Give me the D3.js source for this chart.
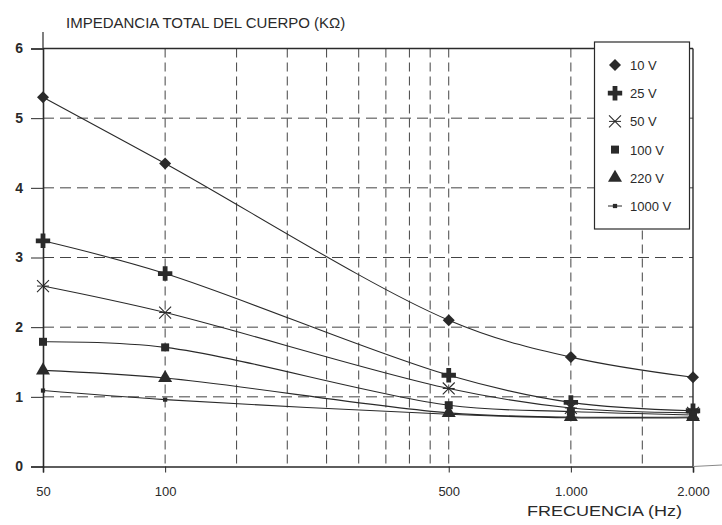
<!DOCTYPE html>
<html><head><meta charset="utf-8">
<script src="https://cdn.jsdelivr.net/npm/d3@7"></script>
<style>
html,body{margin:0;padding:0;background:#fff;}
svg{display:block;font-family:Arial,"Liberation Sans",sans-serif;}
</style></head>
<body>
<svg id="chart" width="722" height="525"></svg>
<script>
// ---- data ----
const frequencies = [50, 100, 500, 1000, 2000];
const seriesNames = ["10 V", "25 V", "50 V", "100 V", "220 V", "1000 V"];
const v10   = [5.30, 4.35, 2.10, 1.57, 1.28];
const v25   = [3.24, 2.77, 1.31, 0.92, 0.80];
const v50   = [2.59, 2.21, 1.12, 0.84, 0.77];
const v100  = [1.79, 1.71, 0.88, 0.79, 0.74];
const v220  = [1.38, 1.27, 0.77, 0.71, 0.71];
const v1000 = [1.09, 0.96, 0.75, 0.70, 0.70];
const xTickValues = [50, 100, 500, 1000, 2000];
const xTickLabels = ["50", "100", "500", "1.000", "2.000"];
const xGridValues = [100, 150, 200, 250, 300, 350, 400, 450, 500, 1000, 1500];
const yTickValues = [0, 1, 2, 3, 4, 5, 6];
const yGridValues = [1, 2, 3, 4, 5];
const titleText = "IMPEDANCIA TOTAL DEL CUERPO (KΩ)";
const xTitleText = "FRECUENCIA (Hz)";

const allValues = [v10, v25, v50, v100, v220, v1000];
const markerTypes = ["diamond", "cross", "asterisk", "square", "triangle", "dot"];

// ---- layout ----
const svg = d3.select("#chart");
const L = 43, R = 693, T = 48.5, B = 466.5;
const x = d3.scaleLog().domain([50, 2000]).range([L, R]);
const y = d3.scaleLinear().domain([0, 6]).range([B, T]);
const ink = "#2a2a2a";
const gridCol = "#444";

// grid
svg.append("g").selectAll("line").data(xGridValues).join("line")
  .attr("x1", d => x(d)).attr("x2", d => x(d)).attr("y1", T).attr("y2", B)
  .attr("stroke", gridCol).attr("stroke-width", 1).attr("stroke-dasharray", "9,5");
svg.append("g").selectAll("line").data(yGridValues).join("line")
  .attr("x1", L).attr("x2", R).attr("y1", d => y(d)).attr("y2", d => y(d))
  .attr("stroke", gridCol).attr("stroke-width", 1).attr("stroke-dasharray", "11,6");

// frame: top and right
svg.append("line").attr("x1", L).attr("x2", R).attr("y1", T).attr("y2", T)
  .attr("stroke", ink).attr("stroke-width", 1.6);
svg.append("line").attr("x1", R).attr("x2", R).attr("y1", T).attr("y2", B)
  .attr("stroke", ink).attr("stroke-width", 1.4);

// axes
const yAxis = svg.append("g").attr("transform", `translate(${L},0)`)
  .call(d3.axisLeft(y).tickValues(yTickValues).tickFormat(d3.format("d")).tickSize(12).tickPadding(8));
const xAxis = svg.append("g").attr("transform", `translate(0,${B})`)
  .call(d3.axisBottom(x).tickValues(xTickValues).tickFormat((d, i) => xTickLabels[i]).tickSize(6).tickPadding(14));
[yAxis, xAxis].forEach(g => {
  g.select(".domain").attr("stroke", ink).attr("stroke-width", 1.6);
  g.selectAll(".tick line").attr("stroke", ink).attr("stroke-width", 1);
  g.selectAll(".tick text").attr("fill", ink);
});
yAxis.selectAll(".tick text").attr("font-size", 14).attr("font-weight", "bold");
xAxis.selectAll(".tick text").attr("font-size", 13);
// axis extensions
svg.append("line").attr("x1", L).attr("x2", L).attr("y1", 32).attr("y2", T)
  .attr("stroke", ink).attr("stroke-width", 1.2);
svg.append("line").attr("x1", R).attr("x2", 722).attr("y1", B).attr("y2", B - 1.5)
  .attr("stroke", "#888").attr("stroke-width", 1);

// lines
const line = d3.line().x((d, i) => x(frequencies[i])).y(d => y(d)).curve(d3.curveCatmullRom.alpha(0.5));
svg.append("g").selectAll("path").data(allValues).join("path")
  .attr("d", d => line(d)).attr("fill", "none").attr("stroke", ink).attr("stroke-width", 1.1);

// markers
function drawMarker(g, type, cx, cy) {
  if (type === "diamond") {
    g.append("path").attr("d", d3.symbol(d3.symbolSquare, 72)()).attr("transform", `translate(${cx},${cy}) rotate(45)`).attr("fill", ink);
  } else if (type === "cross") {
    g.append("path").attr("d", d3.symbol(d3.symbolCross, 115)()).attr("transform", `translate(${cx},${cy})`).attr("fill", ink);
  } else if (type === "asterisk") {
    g.append("path").attr("d", d3.symbol(d3.symbolTimes, 95)()).attr("transform", `translate(${cx},${cy})`)
      .attr("fill", "none").attr("stroke", ink).attr("stroke-width", 1.1);
    g.append("line").attr("x1", cx - 6).attr("x2", cx + 6).attr("y1", cy).attr("y2", cy).attr("stroke", ink).attr("stroke-width", 1);
  } else if (type === "square") {
    g.append("path").attr("d", d3.symbol(d3.symbolSquare, 64)()).attr("transform", `translate(${cx},${cy})`).attr("fill", ink);
  } else if (type === "triangle") {
    g.append("path").attr("d", d3.symbol(d3.symbolTriangle, 85)()).attr("transform", `translate(${cx},${cy})`).attr("fill", ink);
  } else {
    g.append("path").attr("d", d3.symbol(d3.symbolSquare, 18)()).attr("transform", `translate(${cx},${cy})`).attr("fill", ink);
  }
}
const mg = svg.append("g");
allValues.forEach((vals, s) => {
  vals.forEach((v, i) => drawMarker(mg, markerTypes[s], x(frequencies[i]), y(v)));
});

// legend
const lg = svg.append("g");
lg.append("rect").attr("x", 594.5).attr("y", 42).attr("width", 95).attr("height", 187)
  .attr("fill", "#fff").attr("stroke", ink).attr("stroke-width", 1.2);
const legendY = d3.scalePoint().domain(seriesNames).range([65, 206]);
seriesNames.forEach((name, s) => {
  const ly = legendY(name);
  if (markerTypes[s] === "dot") {
    lg.append("line").attr("x1", 608).attr("x2", 622).attr("y1", ly).attr("y2", ly).attr("stroke", ink).attr("stroke-width", 1);
  }
  drawMarker(lg, markerTypes[s], 615, ly);
  lg.append("text").attr("x", 630).attr("y", ly + 5).attr("font-size", 13).attr("fill", ink).text(name);
});

// titles
svg.append("text").attr("x", 66).attr("y", 28).attr("font-size", 15).attr("fill", ink).text(titleText);
svg.append("text").attr("x", 527).attr("y", 516).attr("font-size", 15.5).attr("fill", ink)
  .attr("textLength", 155).attr("lengthAdjust", "spacingAndGlyphs").text(xTitleText);
</script>
</body></html>
